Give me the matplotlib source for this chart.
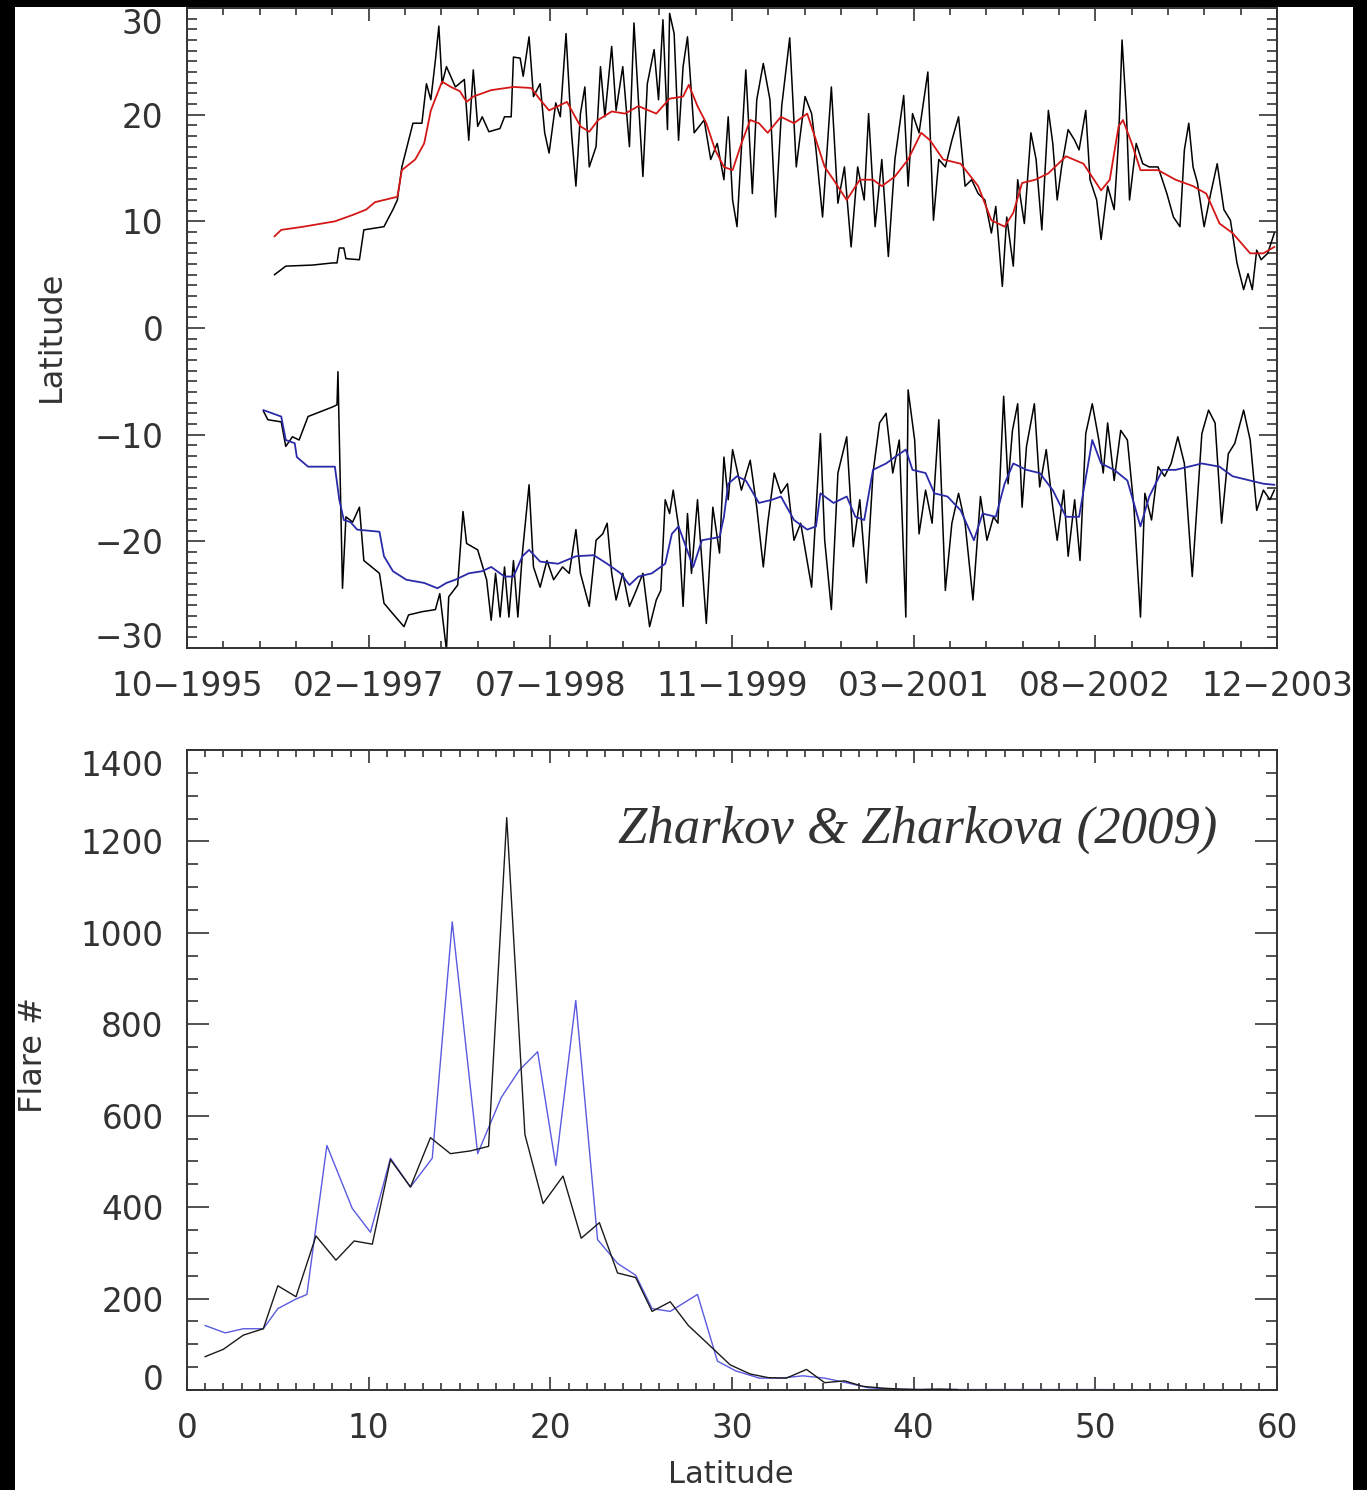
import matplotlib
matplotlib.use("Agg")
import matplotlib.pyplot as plt
from matplotlib.ticker import AutoMinorLocator, FixedLocator
from matplotlib.patches import Rectangle
import numpy as np

# ---------------- data: top panel (decimal year, latitude) ----------------
date_labels = ["10\u22121995", "02\u22121997", "07\u22121998", "11\u22121999",
               "03\u22122001", "08\u22122002", "12\u22122003"]
date_start, date_end = 1995.75, 2003.917

north_t = [1996.406, 1996.490, 1996.690, 1996.841, 1996.874, 1996.891, 1996.925, 1996.941, 1997.042, 1997.075,
           1997.226, 1997.259, 1997.293, 1997.326, 1997.360, 1997.443, 1997.510, 1997.544, 1997.577, 1997.611,
           1997.637, 1997.661, 1997.694, 1997.761, 1997.828, 1997.861, 1997.895, 1997.928, 1997.962, 1998.012,
           1998.095, 1998.129, 1998.179, 1998.196, 1998.246, 1998.269, 1998.313, 1998.346, 1998.396, 1998.430,
           1998.463, 1998.513, 1998.547, 1998.590, 1998.631, 1998.664, 1998.698, 1998.731, 1998.764, 1998.815,
           1998.848, 1998.881, 1998.932, 1998.965, 1999.015, 1999.065, 1999.099, 1999.132, 1999.166, 1999.199,
           1999.250, 1999.283, 1999.316, 1999.350, 1999.366, 1999.400, 1999.433, 1999.467, 1999.500, 1999.550,
           1999.625, 1999.674, 1999.723, 1999.773, 1999.805, 1999.838, 1999.871, 1999.937, 1999.986, 2000.019,
           2000.068, 2000.118, 2000.160, 2000.206, 2000.266, 2000.315, 2000.381, 2000.430, 2000.463, 2000.512,
           2000.578, 2000.627, 2000.676, 2000.726, 2000.775, 2000.824, 2000.857, 2000.906, 2000.956, 2001.005,
           2001.054, 2001.120, 2001.153, 2001.186, 2001.235, 2001.301, 2001.343, 2001.383, 2001.432, 2001.481,
           2001.531, 2001.580, 2001.629, 2001.678, 2001.728, 2001.777, 2001.810, 2001.859, 2001.892, 2001.941,
           2001.974, 2002.024, 2002.073, 2002.112, 2002.155, 2002.204, 2002.237, 2002.270, 2002.303, 2002.352,
           2002.401, 2002.434, 2002.484, 2002.516, 2002.566, 2002.599, 2002.648, 2002.697, 2002.730, 2002.756,
           2002.789, 2002.812, 2002.862, 2002.911, 2002.960, 2003.026, 2003.092, 2003.141, 2003.190, 2003.223,
           2003.256, 2003.288, 2003.321, 2003.371, 2003.420, 2003.469, 2003.519, 2003.568, 2003.617, 2003.667,
           2003.700, 2003.732, 2003.765, 2003.798, 2003.847, 2003.897]
north_lat = [5.0, 5.8, 5.9, 6.1, 6.1, 7.5, 7.5, 6.5, 6.4, 9.2,
             9.5, 10.3, 11.1, 12.0, 15.1, 19.2, 19.2, 22.9, 21.4, 25.1,
             28.3, 22.9, 24.5, 22.6, 23.3, 17.6, 24.2, 18.9, 19.8, 18.4,
             18.7, 19.8, 19.8, 25.4, 25.3, 23.6, 27.3, 21.7, 22.9, 18.3,
             16.4, 21.1, 19.8, 27.6, 18.3, 13.3, 20.1, 22.6, 15.1, 17.0,
             24.5, 19.8, 26.4, 20.4, 24.5, 17.0, 28.6, 21.4, 14.2, 22.9,
             26.1, 21.4, 28.9, 18.6, 29.5, 27.6, 17.6, 24.5, 27.3, 18.3,
             19.5, 15.8, 17.3, 13.9, 19.8, 12.0, 9.5, 24.2, 12.6, 21.4,
             24.8, 21.4, 10.4, 20.8, 27.2, 15.1, 21.7, 20.1, 16.7, 10.4,
             22.6, 11.7, 15.1, 7.6, 15.1, 12.0, 20.1, 9.5, 15.8, 6.7,
             15.8, 21.8, 13.3, 20.1, 18.3, 24.0, 10.1, 15.8, 15.1, 17.6,
             19.8, 13.3, 13.9, 12.6, 12.0, 8.9, 11.4, 3.9, 10.4, 5.8,
             13.9, 9.8, 18.3, 15.8, 9.2, 20.4, 17.3, 12.0, 15.1, 18.6,
             17.6, 16.7, 20.4, 13.9, 12.0, 8.3, 13.3, 11.1, 17.6, 27.0,
             20.1, 12.0, 17.3, 15.4, 15.1, 15.1, 12.6, 10.4, 9.5, 16.7,
             19.2, 15.1, 13.6, 9.5, 12.6, 15.4, 11.1, 10.1, 6.1, 3.6,
             5.1, 3.6, 7.3, 6.4, 7.0, 8.9]

north_smooth_t = [1996.406, 1996.456, 1996.623, 1996.858, 1996.992, 1997.092, 1997.159, 1997.326, 1997.360, 1997.460,
                  1997.527, 1997.577, 1997.661, 1997.727, 1997.794, 1997.845, 1997.895, 1998.029, 1998.196, 1998.329,
                  1998.396, 1998.463, 1998.597, 1998.698, 1998.764, 1998.831, 1998.932, 1999.032, 1999.132, 1999.266,
                  1999.366, 1999.467, 1999.510, 1999.575, 1999.641, 1999.707, 1999.773, 1999.838, 1999.904, 1999.970,
                  2000.035, 2000.101, 2000.200, 2000.298, 2000.397, 2000.463, 2000.528, 2000.594, 2000.693, 2000.791,
                  2000.890, 2000.956, 2001.054, 2001.153, 2001.251, 2001.317, 2001.416, 2001.547, 2001.678, 2001.777,
                  2001.876, 2001.941, 2002.007, 2002.106, 2002.204, 2002.336, 2002.467, 2002.599, 2002.664, 2002.730,
                  2002.763, 2002.829, 2002.894, 2003.026, 2003.157, 2003.288, 2003.387, 2003.486, 2003.584, 2003.716,
                  2003.815, 2003.897]
north_smooth_lat = [8.6, 9.2, 9.5, 10.0, 10.6, 11.1, 11.8, 12.3, 14.8, 15.8,
                    17.3, 20.4, 23.1, 22.6, 22.2, 21.2, 21.7, 22.3, 22.6, 22.5,
                    21.4, 20.4, 21.2, 18.9, 18.4, 19.5, 20.3, 20.1, 20.8, 20.1,
                    21.5, 21.7, 22.8, 20.8, 19.2, 16.7, 15.1, 14.8, 17.3, 19.5,
                    19.2, 18.3, 19.8, 19.2, 20.1, 17.6, 15.1, 13.9, 12.0, 13.9,
                    13.9, 13.3, 14.2, 15.8, 18.3, 17.6, 15.8, 15.4, 13.3, 10.1,
                    9.5, 10.8, 13.6, 13.9, 14.5, 16.1, 15.4, 12.9, 13.9, 18.9,
                    19.5, 17.3, 14.8, 14.8, 13.9, 13.3, 12.6, 9.8, 8.9, 7.0,
                    7.0, 7.6]

south_t = [1996.323, 1996.356, 1996.456, 1996.490, 1996.540, 1996.590, 1996.657, 1996.841, 1996.874, 1996.881,
           1996.915, 1996.941, 1996.991, 1997.042, 1997.075, 1997.192, 1997.226, 1997.293, 1997.376, 1997.410,
           1997.510, 1997.611, 1997.644, 1997.694, 1997.711, 1997.778, 1997.818, 1997.845, 1997.928, 1997.995,
           1998.029, 1998.062, 1998.096, 1998.129, 1998.162, 1998.196, 1998.229, 1998.263, 1998.313, 1998.346,
           1998.396, 1998.447, 1998.497, 1998.564, 1998.614, 1998.664, 1998.698, 1998.764, 1998.815, 1998.865,
           1998.898, 1998.932, 1998.965, 1999.015, 1999.065, 1999.116, 1999.166, 1999.216, 1999.266, 1999.300,
           1999.333, 1999.366, 1999.393, 1999.433, 1999.467, 1999.500, 1999.530, 1999.575, 1999.641, 1999.690,
           1999.740, 1999.773, 1999.805, 1999.838, 1999.904, 1999.970, 2000.019, 2000.068, 2000.101, 2000.150,
           2000.200, 2000.249, 2000.298, 2000.348, 2000.430, 2000.496, 2000.528, 2000.578, 2000.627, 2000.693,
           2000.742, 2000.791, 2000.841, 2000.890, 2000.939, 2000.988, 2001.038, 2001.087, 2001.136, 2001.153,
           2001.202, 2001.235, 2001.284, 2001.333, 2001.383, 2001.432, 2001.481, 2001.531, 2001.580, 2001.639,
           2001.695, 2001.744, 2001.793, 2001.826, 2001.869, 2001.902, 2001.935, 2001.974, 2002.007, 2002.040,
           2002.099, 2002.139, 2002.188, 2002.237, 2002.270, 2002.319, 2002.352, 2002.401, 2002.441, 2002.484,
           2002.533, 2002.582, 2002.615, 2002.648, 2002.697, 2002.746, 2002.796, 2002.845, 2002.894, 2002.927,
           2002.977, 2003.026, 2003.075, 2003.124, 2003.174, 2003.223, 2003.282, 2003.321, 2003.354, 2003.404,
           2003.453, 2003.502, 2003.552, 2003.601, 2003.667, 2003.716, 2003.765, 2003.815, 2003.864, 2003.897]
south_lat = [-7.8, -8.6, -8.8, -11.1, -10.2, -10.5, -8.3, -7.4, -7.2, -4.1,
             -24.4, -17.7, -18.2, -16.8, -21.8, -23.0, -25.8, -26.8, -28.0, -26.9,
             -26.6, -26.4, -24.9, -30.2, -25.2, -24.1, -17.2, -20.2, -20.8, -23.6,
             -27.4, -23.0, -27.1, -22.4, -27.1, -21.8, -27.1, -21.1, -14.7, -22.4,
             -24.3, -21.8, -23.6, -22.4, -23.0, -18.9, -23.0, -26.1, -19.9, -19.3,
             -18.3, -23.0, -25.5, -23.0, -26.1, -24.6, -23.0, -28.0, -25.5, -24.6,
             -16.1, -17.4, -15.2, -18.6, -26.1, -17.4, -23.0, -16.1, -27.7, -16.8,
             -21.1, -12.1, -16.1, -11.4, -15.2, -12.4, -16.8, -22.4, -18.3, -13.6,
             -15.5, -14.6, -19.9, -18.3, -24.3, -9.9, -19.9, -26.4, -13.6, -10.2,
             -20.5, -16.1, -23.9, -13.6, -8.9, -8.0, -13.6, -10.5, -27.1, -5.8,
             -10.5, -19.3, -15.2, -18.3, -8.6, -24.6, -18.3, -15.5, -18.3, -25.5,
             -15.8, -19.9, -17.7, -18.3, -6.4, -14.6, -9.6, -7.1, -16.8, -11.1,
             -7.1, -14.9, -11.4, -16.8, -19.9, -15.2, -21.4, -16.1, -21.8, -9.9,
             -7.1, -10.5, -13.6, -8.9, -14.3, -9.6, -10.5, -16.8, -27.1, -15.5,
             -18.0, -13.0, -13.9, -12.7, -10.2, -12.7, -23.3, -16.1, -9.9, -7.7,
             -8.9, -18.3, -11.8, -10.8, -7.7, -10.5, -17.1, -15.2, -16.1, -15.2]

south_smooth_t = [1996.323, 1996.456, 1996.490, 1996.557, 1996.573, 1996.657, 1996.858, 1996.891, 1996.925, 1996.975,
                  1997.025, 1997.192, 1997.226, 1997.293, 1997.393, 1997.527, 1997.627, 1997.694, 1997.761, 1997.861,
                  1997.962, 1998.029, 1998.129, 1998.196, 1998.263, 1998.313, 1998.396, 1998.530, 1998.664, 1998.798,
                  1998.898, 1998.999, 1999.065, 1999.132, 1999.233, 1999.333, 1999.383, 1999.433, 1999.543, 1999.608,
                  1999.740, 1999.773, 1999.805, 1999.871, 1999.937, 2000.035, 2000.134, 2000.200, 2000.298, 2000.397,
                  2000.463, 2000.496, 2000.594, 2000.693, 2000.758, 2000.824, 2000.890, 2000.988, 2001.054, 2001.136,
                  2001.186, 2001.284, 2001.350, 2001.448, 2001.547, 2001.646, 2001.711, 2001.810, 2001.876, 2001.941,
                  2002.040, 2002.139, 2002.237, 2002.336, 2002.434, 2002.533, 2002.599, 2002.697, 2002.796, 2002.894,
                  2002.960, 2003.059, 2003.157, 2003.256, 2003.354, 2003.486, 2003.584, 2003.716, 2003.815, 2003.897]
south_smooth_lat = [-7.7, -8.3, -10.5, -10.8, -12.1, -13.0, -13.0, -16.1, -18.0, -18.2,
                    -18.9, -19.1, -21.4, -22.8, -23.6, -23.9, -24.4, -23.9, -23.6, -23.0,
                    -22.8, -22.4, -23.3, -23.3, -21.4, -20.8, -21.9, -22.1, -21.4, -21.3,
                    -22.1, -23.0, -24.1, -23.3, -23.0, -22.1, -19.3, -18.6, -22.4, -19.9,
                    -19.6, -17.7, -14.6, -13.9, -14.3, -16.4, -16.1, -15.8, -18.0, -18.9,
                    -18.6, -15.5, -16.4, -15.8, -17.7, -18.0, -13.3, -12.7, -12.1, -11.4,
                    -13.3, -13.6, -15.5, -15.8, -17.1, -19.9, -17.4, -17.7, -14.6, -12.7,
                    -13.3, -13.6, -15.2, -17.7, -17.7, -10.5, -12.7, -13.3, -14.3, -18.6,
                    -15.8, -13.3, -13.3, -13.0, -12.7, -13.0, -13.9, -14.3, -14.6, -14.7]

# ---------------- data: bottom panel (latitude, flare number) ----------------
flare_lat_a = [1.0, 2.0, 3.1, 4.2, 5.0, 6.0, 7.1, 8.2, 9.2, 10.2,
               11.2, 12.3, 13.4, 14.5, 15.6, 16.6, 17.6, 18.6, 19.6, 20.7,
               21.7, 22.7, 23.7, 24.7, 25.6, 26.6, 27.6, 28.7, 29.9, 31.0,
               32.0, 33.0, 34.1, 35.1, 36.2, 37.2, 38.3, 39.3, 40.3, 41.4, 42.4]
flare_cnt_a = [73, 89, 120, 134, 228, 204, 337, 284, 326, 319,
               504, 444, 552, 517, 523, 533, 1252, 559, 408, 468,
               332, 366, 256, 246, 172, 193, 141, 100, 55, 35,
               27, 26, 45, 16, 20, 8, 4, 2, 1, 2, 1]
flare_lat_b = [1.0, 2.1, 3.1, 4.2, 5.0, 6.0, 6.6, 7.7, 9.1, 10.1,
               11.2, 12.3, 13.5, 14.6, 16.0, 17.3, 18.3, 19.3, 20.3, 21.4,
               22.6, 23.7, 24.7, 25.6, 26.6, 28.1, 29.2, 30.2, 31.5, 32.7,
               33.9, 35.1, 36.3, 37.5, 38.7, 40.0, 45.0, 50.0, 55.0, 57.0]
flare_cnt_b = [141, 125, 134, 134, 178, 199, 209, 535, 397, 345,
               507, 444, 507, 1024, 517, 640, 700, 740, 491, 852,
               329, 277, 251, 178, 172, 209, 63, 42, 26, 26,
               31, 26, 16, 5, 2, 1, 1, 1, 0, 0]

# ---------------- figure ----------------
W, H = 1367, 1490
fig = plt.figure(figsize=(W / 100, H / 100), dpi=100)
fig.patch.set_facecolor("white")
plt.rcParams["font.family"] = ["DejaVu Sans"]

TXT = "#333333"
AX = "#333333"


def fx(px):
    return px / W


def fy(py):
    return 1 - py / H


def style_axes(ax, ymajor_len=13, yminor_len=7, xmajor_len=9.5, xminor_len=5):
    for s in ax.spines.values():
        s.set_linewidth(1.4)
        s.set_color(AX)
    ax.tick_params(axis="both", which="both", direction="in", top=True, right=True,
                   colors=AX, labelcolor=TXT, labelsize=23.5, width=1.2)
    ax.tick_params(axis="y", which="major", length=ymajor_len, pad=17)
    ax.tick_params(axis="y", which="minor", length=yminor_len)
    ax.tick_params(axis="x", which="major", length=xmajor_len, pad=16)
    ax.tick_params(axis="x", which="minor", length=xminor_len)


# top panel: pixel box x 187-1277, y 8-648
ax1 = fig.add_axes([fx(187), fy(648), fx(1277) - fx(187), fy(8) - fy(648)])
ax1.plot(north_t, north_lat, color="black", lw=1.1, zorder=2)
ax1.plot(north_smooth_t, north_smooth_lat, color="#d41818", lw=1.3, zorder=3)
ax1.plot(south_t, south_lat, color="black", lw=1.1, zorder=2)
ax1.plot(south_smooth_t, south_smooth_lat, color="#2a2aa8", lw=1.3, zorder=3)
ax1.set_xlim(date_start, date_end)
ax1.set_ylim(-30, 30)
ax1.xaxis.set_major_locator(FixedLocator(np.linspace(date_start, date_end, len(date_labels))))
ax1.set_xticklabels(date_labels)
ax1.xaxis.set_minor_locator(AutoMinorLocator(5))
ax1.set_yticks([-30, -20, -10, 0, 10, 20, 30])
ax1.yaxis.set_minor_locator(AutoMinorLocator(10))
style_axes(ax1)
ylabs = ax1.get_yticklabels()
ylabs[0].set_va("baseline")
ylabs[-1].set_va("top")

# bottom panel: pixel box x 187-1277, y 750-1390
ax2 = fig.add_axes([fx(187), fy(1390), fx(1277) - fx(187), fy(750) - fy(1390)])
ax2.plot(flare_lat_a, flare_cnt_a, color="#1a1a1a", lw=1.0, zorder=3)
ax2.plot(flare_lat_b, flare_cnt_b, color="#5a5ae0", lw=1.0, zorder=2)
ax2.set_xlim(0, 60)
ax2.set_ylim(0, 1400)
ax2.set_xticks([0, 10, 20, 30, 40, 50, 60])
ax2.xaxis.set_minor_locator(AutoMinorLocator(10))
ax2.set_yticks([0, 200, 400, 600, 800, 1000, 1200, 1400])
ax2.yaxis.set_minor_locator(AutoMinorLocator(4))
style_axes(ax2, ymajor_len=16, yminor_len=8, xmajor_len=9.5, xminor_len=5)
ylabs2 = ax2.get_yticklabels()
ylabs2[0].set_va("baseline")
ylabs2[-1].set_va("top")

ax2.text(fx(1217), fy(843), "Zharkov & Zharkova (2009)", transform=fig.transFigure,
         ha="right", va="baseline", fontsize=38, style="italic",
         family="Liberation Serif", color="#333333")

# axis titles
fig.text(fx(51), fy(336), "Latitude", rotation=90, ha="center", va="center",
         fontsize=23, color=TXT)
fig.text(fx(33), fy(1055), "Flare #", rotation=90, ha="center", va="center",
         fontsize=23, color=TXT)
fig.text(fx(731), fy(1489), "Latitude", ha="center", va="bottom",
         fontsize=22, color=TXT)

# black frame around the picture (left, right, top)
for (x0, y0, w, h) in [(0, 0, fx(15), 1), (fx(1353), 0, 1 - fx(1353), 1), (0, fy(7), 1, 1 - fy(7))]:
    fig.add_artist(Rectangle((x0, y0), w, h, transform=fig.transFigure,
                             facecolor="black", edgecolor="none", zorder=20))

fig.savefig("out.png", dpi=100, facecolor=fig.get_facecolor())
